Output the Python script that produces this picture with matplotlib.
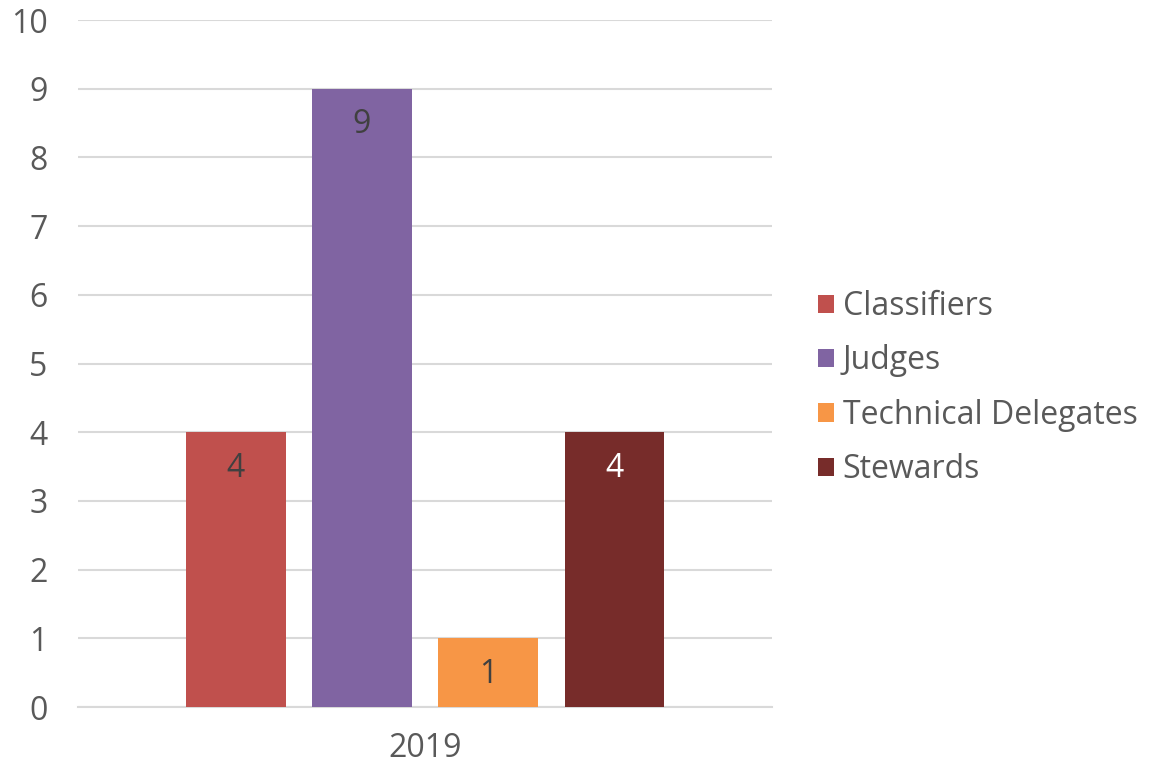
import matplotlib.pyplot as plt
from matplotlib.patches import Patch

plt.rcParams['font.family'] = ['Open Sans', 'DejaVu Sans']

years = ['2019']
categories = ['Classifiers', 'Judges', 'Technical Delegates', 'Stewards']
values = [4, 9, 1, 4]
colors = ['#C0504D', '#8064A2', '#F79646', '#772C2A']
label_colors = ['#404040', '#404040', '#404040', '#FFFFFF']

text_color = '#595959'
grid_color = '#D9D9D9'
fs = 23

fig = plt.figure(figsize=(11.65, 7.64), dpi=100)
ax = fig.add_axes([0.067, 0.0746, 0.5957, 0.8992])

width = 0.144
step = 0.182
offsets = [(i - 1.5) * step for i in range(len(categories))]

for off, v, c, lc in zip(offsets, values, colors, label_colors):
    ax.bar(off, v, width=width, color=c, zorder=3)
    ax.annotate(str(v), xy=(off, v), xytext=(0, -26), textcoords='offset points',
                ha='center', va='center', fontsize=fs, color=lc, zorder=4)

ax.set_xlim(-0.5, 0.5)
ax.set_ylim(0, 10)
ax.set_yticks(range(0, 11))
ax.set_xticks([0])
ax.set_xticklabels(years)
ax.tick_params(axis='both', length=0, labelsize=fs, labelcolor=text_color)
ax.tick_params(axis='y', pad=22)
ax.tick_params(axis='x', pad=18)

ax.grid(axis='y', color=grid_color, linewidth=1.5, zorder=0)
for s in ['top', 'right', 'left']:
    ax.spines[s].set_visible(False)
ax.spines['bottom'].set_color(grid_color)
ax.spines['bottom'].set_linewidth(1.5)

handles = [Patch(facecolor=c, edgecolor='none') for c in colors]
fig.legend(handles, categories, loc='center left', bbox_to_anchor=(0.691, 0.492),
           frameon=False, fontsize=fs, labelcolor=text_color,
           handlelength=0.5, handleheight=0.5, handletextpad=0.28,
           labelspacing=0.67, borderaxespad=0)

fig.savefig('out.png', dpi=100)
